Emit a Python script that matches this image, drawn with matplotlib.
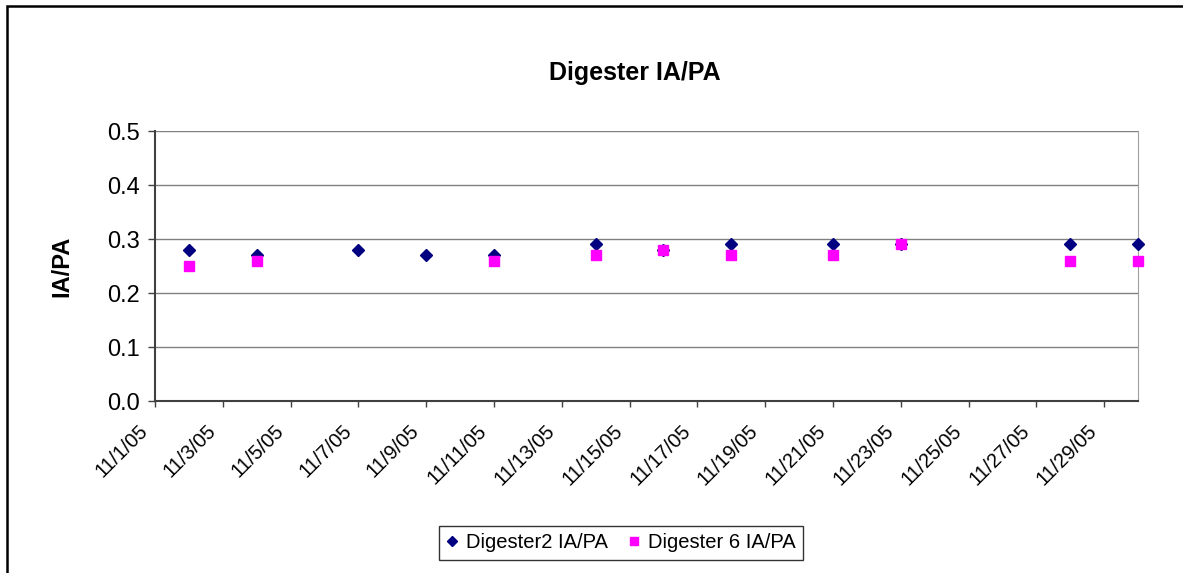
import matplotlib

matplotlib.use('Agg')
import matplotlib.pyplot as plt
import matplotlib.dates as mdates
from matplotlib.patches import Rectangle
from matplotlib.transforms import ScaledTranslation
import pandas as pd

# data
d2_dates = ["2005-11-02", "2005-11-04", "2005-11-07", "2005-11-09", "2005-11-11", "2005-11-14",
            "2005-11-16", "2005-11-18", "2005-11-21", "2005-11-23", "2005-11-28", "2005-11-30"]
d2_values = [0.28, 0.27, 0.28, 0.27, 0.27, 0.29, 0.28, 0.29, 0.29, 0.29, 0.29, 0.29]

d6_dates = ["2005-11-02", "2005-11-04", "2005-11-11", "2005-11-14", "2005-11-16",
            "2005-11-18", "2005-11-21", "2005-11-23", "2005-11-28", "2005-11-30"]
d6_values = [0.25, 0.26, 0.26, 0.27, 0.28, 0.27, 0.27, 0.29, 0.26, 0.26]

tick_dates = pd.date_range("2005-11-01", "2005-11-29", freq="2D")
tick_labels = [f"{d.month}/{d.day}/05" for d in tick_dates]
y_ticks = [0.0, 0.1, 0.2, 0.3, 0.4, 0.5]

plt.rcParams['font.family'] = ['Liberation Sans', 'DejaVu Sans']

fig = plt.figure(figsize=(11.83, 5.73), dpi=100)
ax = fig.add_axes([155 / 1183, 1 - 401 / 573, (1138 - 155) / 1183, (401 - 131) / 573])

ax.plot(pd.to_datetime(d2_dates), d2_values, linestyle="none", marker="D", color="#000080",
        markersize=6.5, label="Digester2 IA/PA", zorder=4, clip_on=False)
ax.plot(pd.to_datetime(d6_dates), d6_values, linestyle="none", marker="s", color="#FF00FF",
        markersize=6.5, label="Digester 6 IA/PA", zorder=5, clip_on=False)

ax.set_xlim(pd.Timestamp("2005-11-01"), pd.Timestamp("2005-11-30"))
ax.set_ylim(0, 0.5)
ax.set_yticks(y_ticks)
ax.set_yticklabels([f"{v:.1f}" for v in y_ticks], fontsize=17)
ax.set_xticks(mdates.date2num(tick_dates))
ax.set_xticklabels(tick_labels, rotation=45, ha="right", va="center", rotation_mode="anchor",
                   fontsize=14.5)

ax.tick_params(axis="y", direction="out", length=5, width=1, color="#404040", pad=6)
ax.tick_params(axis="x", direction="out", length=4.5, width=1, color="#404040", pad=15)

# Excel places the rotated labels a bit to the left of their ticks
shift = ScaledTranslation(-10 / 100, 0, fig.dpi_scale_trans)
for lbl in ax.get_xticklabels():
    lbl.set_transform(lbl.get_transform() + shift)

ax.grid(True, axis="y", color="#808080", linewidth=1)
ax.set_axisbelow(True)
ax.spines["top"].set_visible(False)
ax.spines["right"].set_color("#a0a0a0")
ax.spines["left"].set_color("#404040")
ax.spines["bottom"].set_color("#404040")
ax.spines["left"].set_linewidth(1.5)
ax.spines["bottom"].set_linewidth(1.5)

ax.set_ylabel("IA/PA", fontsize=17, fontweight="bold", labelpad=24)
fig.text(635 / 1183, 1 - 73 / 573, "Digester IA/PA", ha="center", va="center",
         fontsize=18, fontweight="bold")

leg = fig.legend(loc="center", bbox_to_anchor=(621 / 1183, 1 - 543 / 573), ncol=2,
                 fontsize=14.5, frameon=True, fancybox=False, handlelength=0.6,
                 handletextpad=0.4, columnspacing=1.0, borderpad=0.35, markerscale=0.8)
leg.get_frame().set_edgecolor("black")
leg.get_frame().set_linewidth(1)

# outer chart frame (only left and top edges are visible in the crop)
fig.patches.append(Rectangle((7 / 1183, -0.5), 2, 1.5 - 6 / 573, transform=fig.transFigure,
                             fill=False, edgecolor="black", linewidth=1.8))

fig.savefig("out.png", dpi=100)
